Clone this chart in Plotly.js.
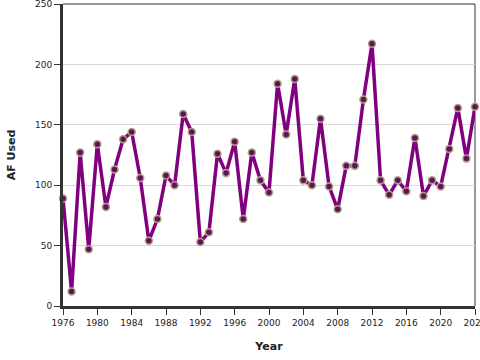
<!DOCTYPE html>
<html><head><meta charset="utf-8">
<script src="https://cdn.plot.ly/plotly-3.0.1.min.js"></script>
<style>html,body{margin:0;padding:0;background:#fff}#chart{width:480px;height:360px}</style>
</head><body><div id="chart"></div>
<script>
const years = [1976,1977,1978,1979,1980,1981,1982,1983,1984,1985,1986,1987,1988,1989,1990,1991,1992,1993,1994,1995,1996,1997,1998,1999,2000,2001,2002,2003,2004,2005,2006,2007,2008,2009,2010,2011,2012,2013,2014,2015,2016,2017,2018,2019,2020,2021,2022,2023,2024];
const afUsed = [89,12,127,47,134,82,113,138,144,106,54,72,108,100,159,144,53,61,126,110,136,72,127,104,94,184,142,188,104,100,155,99,80,116,116,171,217,104,92,104,95,139,91,104,99,130,164,122,165];
const xTicks = [1976,1980,1984,1988,1992,1996,2000,2004,2008,2012,2016,2020,2024];
const yTicks = [0,50,100,150,200,250];

const trace = {
  x: years, y: afUsed, type: 'scatter', mode: 'lines+markers',
  line: {color: '#800080', width: 3.5},
  marker: {size: 7, color: '#5e1458', line: {color: '#b0a282', width: 1.5}},
  cliponaxis: false, hoverinfo: 'skip'
};
const font = {family: 'DejaVu Sans, Verdana, sans-serif', size: 9, color: '#222'};
const titleFont = {family: 'DejaVu Sans, Verdana, sans-serif', size: 11, color: '#222'};
const layout = {
  width: 480, height: 360,
  margin: {l: 63, r: 5, t: 4, b: 54},
  paper_bgcolor: '#fff', plot_bgcolor: '#fff',
  showlegend: false, font: font,
  xaxis: {
    range: [1976, 2024], tickvals: xTicks, ticktext: xTicks.map(String),
    showgrid: false, zeroline: false,
    showline: true, linecolor: '#333', linewidth: 3,
    ticks: 'outside', ticklen: 6, tickcolor: '#333', tickwidth: 1,
    tickfont: font, ticklabeloverflow: 'allow',
    title: {text: '<b>Year</b>', font: titleFont, standoff: 16}
  },
  yaxis: {
    range: [0, 250], tickvals: yTicks, ticktext: yTicks.map(String),
    showgrid: true, gridcolor: '#d9d9d9', gridwidth: 1, zeroline: false,
    showline: true, linecolor: '#333', linewidth: 3,
    ticks: 'outside', ticklen: 6, tickcolor: '#333', tickwidth: 1,
    tickfont: font, ticklabeloverflow: 'allow',
    title: {text: '<b>AF Used</b>', font: titleFont, standoff: 18}
  },
  shapes: [
    {type: 'line', xref: 'paper', yref: 'paper', x0: 0, x1: 1, y0: 1, y1: 1, line: {color: '#333', width: 1}, layer: 'below'},
    {type: 'line', xref: 'paper', yref: 'paper', x0: 1, x1: 1, y0: 0, y1: 1, line: {color: '#333', width: 1}, layer: 'below'}
  ]
};
Plotly.newPlot('chart', [trace], layout, {staticPlot: true, displayModeBar: false});
</script></body></html>
